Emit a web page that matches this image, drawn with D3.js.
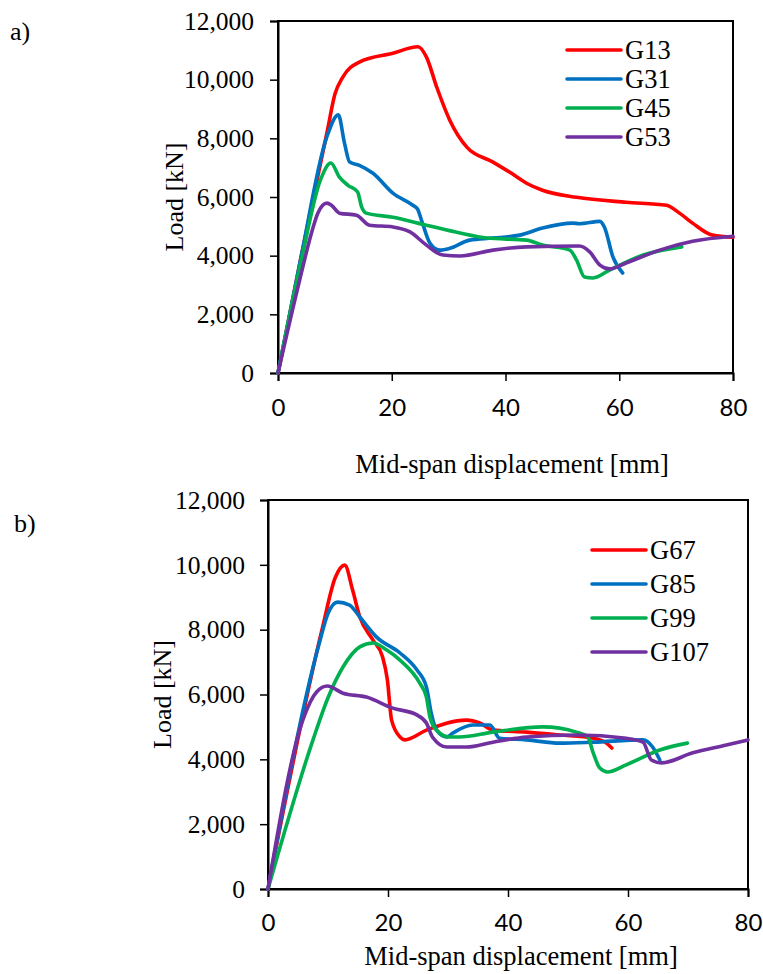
<!DOCTYPE html>
<html>
<head>
<meta charset="utf-8">
<script src="https://cdn.jsdelivr.net/npm/d3@7"></script>
<style>
  body { margin: 0; background: #fff; }
  svg { display: block; }
  text { font-family: "Liberation Serif", "Times New Roman", serif; fill: #000; }
</style>
</head>
<body>
<div id="chart"></div>
<script>
// --- data: [displacement mm, load kN] ---
const g13 = [[0,0],[4,3900],[8.7,8280],[10,9500],[11.4,10090],[14.3,10600],[20.2,10900],[24.6,11120],
  [26.1,10770],[27.9,9750],[30.2,8620],[33.2,7700],[37.8,7190],[40.7,6850],[43.7,6470],[46.5,6230],
  [52.5,5990],[61.2,5820],[68.3,5720],[70.6,5450],[72.9,5110],[76.4,4700],[80,4630]];
const g31 = [[0,0],[4,3900],[8.5,8000],[10.6,8800],[11.7,7830],[12.6,7190],[14.3,7080],[16.7,6810],
  [20.2,6130],[23.7,5720],[24.5,5600],[25.4,5110],[26.7,4430],[28.4,4190],[30.2,4250],[33.7,4530],
  [37.8,4600],[42.5,4700],[46.5,4940],[51.8,5110],[53,5090],[56.6,5170],[57.4,4970],[58.9,3950],[60.6,3410]];
const g45 = [[0,0],[4,3750],[7.5,6600],[9.3,7160],[10.8,6680],[12.3,6400],[14,6170],[14.7,5660],
  [15.5,5450],[20.2,5310],[26.1,5040],[32,4770],[36.7,4600],[43.7,4530],[46.5,4360],[51.3,4190],
  [52.5,3850],[53.9,3270],[55.4,3240],[58.3,3510],[64.2,4020],[71,4300]];
const g53 = [[0,0],[3.8,3160],[6,4850],[7,5450],[8.6,5790],[9.4,5720],[10.8,5450],[13.8,5380],
  [16.1,5040],[20.2,4980],[23.2,4810],[26.1,4360],[29,4020],[32,3990],[37.8,4190],[43.7,4300],
  [53,4330],[54.8,4130],[56.6,3680],[58.3,3550],[61.2,3750],[67.1,4190],[72.9,4490],[80,4660]];

const g67 = [[0,0],[9.1,8080],[11.2,9600],[12.8,9990],[14.1,9220],[15.3,8390],[17.5,7680],[19.1,7160],
  [19.9,6450],[20.6,5210],[22,4690],[22.8,4600],[26.4,4900],[33.1,5210],[35.3,5120],[37.5,4900],
  [43.1,4840],[48.6,4750],[54.2,4650],[56.4,4500],[57.3,4350]];
const g85 = [[0,0],[8.5,7550],[10,8500],[11.6,8850],[13.6,8760],[15.3,8390],[18.1,7770],[22,7280],
  [24.8,6760],[26.4,6230],[27.2,5430],[28.1,4900],[29.8,4690],[30.8,4810],[34.1,5060],[37,5060],
  [38.6,4650],[43.1,4600],[48.6,4500],[54.2,4530],[62.5,4600],[64.1,4380],[65.3,3980]];
const g99 = [[0,0],[7.5,4600],[10,5900],[12.5,6850],[15.3,7470],[17.5,7590],[19.8,7370],[22,7060],
  [25.3,6350],[26.4,5920],[27,5300],[28.1,4900],[30.3,4690],[31.9,4690],[37.5,4840],[45.8,5000],
  [51.4,4840],[53.3,4690],[54.2,4200],[55.3,3730],[56.6,3610],[59.7,3830],[65.3,4290],[69.9,4500]];
const g107 = [[0,0],[5.8,5210],[8.1,6080],[9.9,6260],[12.5,6040],[16.4,5920],[20.8,5580],[24.8,5370],
  [26.4,5120],[27.4,4690],[29.8,4380],[33.1,4380],[37.5,4530],[43.1,4690],[51.4,4750],[59.7,4650],
  [62.5,4530],[63.9,3980],[65.6,3890],[70.8,4200],[76.4,4440],[80,4600]];

const xTicks = [0, 20, 40, 60, 80];
const yTicks = [0, 2000, 4000, 6000, 8000, 10000, 12000];
const colors = ["#FF0000", "#0070C0", "#00B050", "#7030A0"];

const panels = [
  {
    tag: "a)", tagX: 10, tagY: 40,
    left: 278, right: 733, top: 21, bottom: 373,
    names: ["G13", "G31", "G45", "G53"], series: [g13, g31, g45, g53],
    legX: 567, legY: 50, legStep: 29,
    xTitleX: 512, xTitleY: 473, yTitleX: 183, yPad: 16, xLabY: 408
  },
  {
    tag: "b)", tagX: 14, tagY: 532,
    left: 268, right: 748, top: 500, bottom: 889,
    names: ["G67", "G85", "G99", "G107"], series: [g67, g85, g99, g107],
    legX: 592, legY: 550, legStep: 34,
    xTitleX: 521, xTitleY: 965, yTitleX: 171, yPad: 15, xLabY: 923
  }
];

const svg = d3.select("#chart").append("svg")
  .attr("width", 763)
  .attr("height", 974);

panels.forEach(p => {
  let x = d3.scaleLinear().domain([0, 80]).range([p.left, p.right]);
  let y = d3.scaleLinear().domain([0, 12000]).range([p.bottom, p.top]);
  let g = svg.append("g");

  //frame
  g.append("rect")
    .attr("x", p.left).attr("y", p.top)
    .attr("width", p.right - p.left).attr("height", p.bottom - p.top)
    .style("fill", "none").style("stroke", "#000").style("stroke-width", 2);

  //y axis (serif labels)
  let yAxis = g.append("g")
    .attr("transform", "translate(" + p.left + ",0)")
    .call(d3.axisLeft(y).tickValues(yTicks).tickFormat(d3.format(",")).tickSizeOuter(0).tickSize(8).tickPadding(p.yPad));
  yAxis.select(".domain").style("stroke-width", 2);
  yAxis.selectAll(".tick line").style("stroke-width", 1.5);
  yAxis.selectAll("text").style("font-size", "25.5px")
    .style("font-family", "'Liberation Serif', 'Times New Roman', serif");

  //x axis (sans labels, like the original)
  let xAxis = g.append("g")
    .attr("transform", "translate(0," + p.bottom + ")")
    .call(d3.axisBottom(x).tickValues(xTicks).tickSizeOuter(0).tickSize(8));
  xAxis.select(".domain").style("stroke-width", 2);
  xAxis.selectAll(".tick line").style("stroke-width", 1.5);
  xAxis.selectAll("text")
    .attr("y", p.xLabY - p.bottom).attr("dy", "0.35em")
    .style("font-size", "24px")
    .style("font-family", "Lato, 'Open Sans', sans-serif");

  //curves
  let line = d3.line()
    .x(d => x(d[0]))
    .y(d => y(d[1]))
    .curve(d3.curveMonotoneX);

  g.selectAll(".curve")
    .data(p.series)
    .enter()
    .append("path")
    .attr("class", "curve")
    .attr("d", line)
    .style("fill", "none")
    .style("stroke", (d, i) => colors[i])
    .style("stroke-width", 3.6)
    .style("stroke-linejoin", "round")
    .style("stroke-linecap", "round");

  //legend
  let leg = g.selectAll(".leg")
    .data(p.names)
    .enter()
    .append("g")
    .attr("transform", (d, i) => "translate(" + p.legX + "," + (p.legY + i * p.legStep) + ")");
  leg.append("line")
    .attr("x1", 0).attr("x2", 54)
    .style("stroke", (d, i) => colors[i])
    .style("stroke-width", 3.6)
    .style("stroke-linecap", "round");
  leg.append("text")
    .attr("x", 58).attr("dy", "0.35em")
    .style("font-size", "26.5px")
    .text(d => d);

  //titles
  g.append("text")
    .attr("x", p.xTitleX).attr("y", p.xTitleY)
    .style("text-anchor", "middle").style("font-size", "26.5px")
    .text("Mid-span displacement [mm]");
  let cy = (p.top + p.bottom) / 2;
  g.append("text")
    .attr("transform", "translate(" + p.yTitleX + "," + cy + ") rotate(-90)")
    .style("text-anchor", "middle").style("font-size", "26px")
    .text("Load [kN]");
  g.append("text")
    .attr("x", p.tagX).attr("y", p.tagY)
    .style("font-size", "26px")
    .text(p.tag);
});
</script>
</body>
</html>
